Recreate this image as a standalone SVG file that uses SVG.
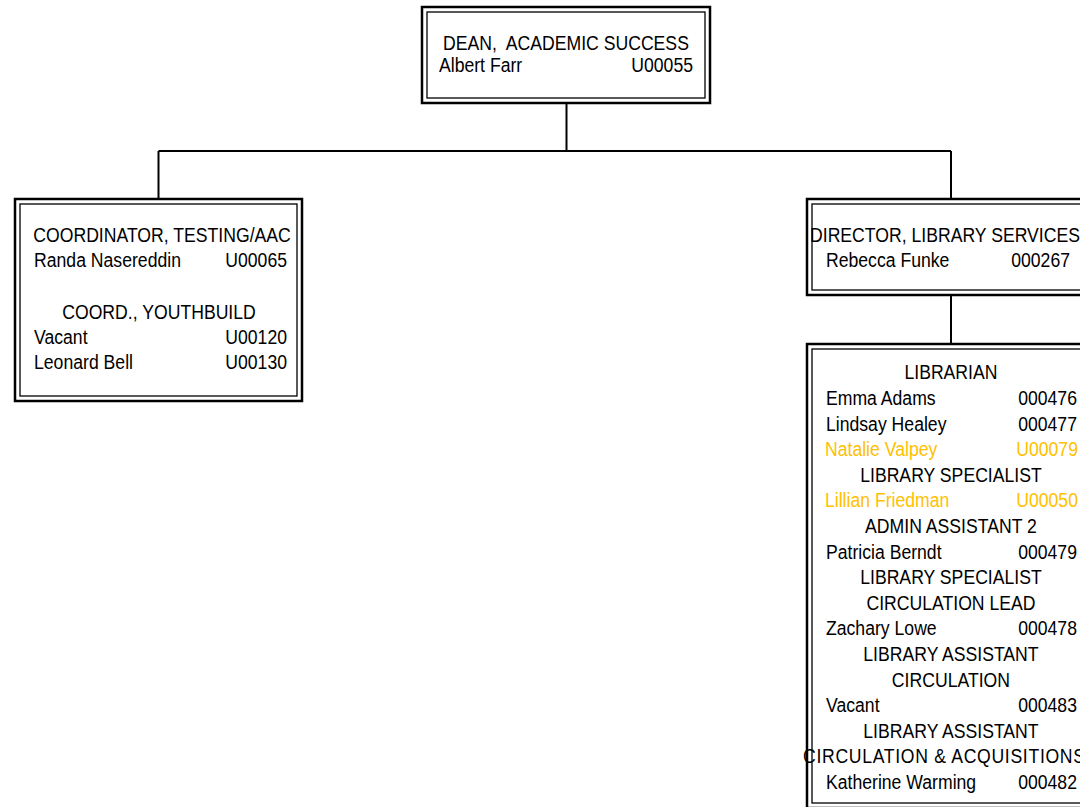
<svg xmlns="http://www.w3.org/2000/svg" width="1080" height="807" viewBox="0 0 1080 807">
<style>
text{font-family:"Liberation Sans",Arial,sans-serif;font-size:21px;fill:#000}
.c{text-anchor:middle}
.r{text-anchor:end}
.y{fill:#FFC000}
.o{fill:#fff;stroke:#000;stroke-width:2.5}
.i{fill:none;stroke:#000;stroke-width:1.3}
.ln{fill:none;stroke:#000;stroke-width:2}
</style>
<rect width="1080" height="807" fill="#fff"/>
<g id="connectors">
<path class="ln" d="M566.5 103V151M158.5 151H951M158.5 151V199M951 151V199M951 295V344"/>
</g>
<g id="dean">
<rect class="o" x="422" y="7" width="288" height="96"/>
<rect class="i" x="427" y="12" width="278" height="86"/>
<g transform="scale(0.84,1)">
<text class="c" x="673.8" y="50" xml:space="preserve">DEAN,  ACADEMIC SUCCESS</text>
<text x="522.6" y="72">Albert Farr</text>
<text class="r" x="825" y="72">U00055</text>
</g>
</g>
<g id="coordinator">
<rect class="o" x="15" y="199" width="287" height="202"/>
<rect class="i" x="20" y="204" width="277" height="192"/>
<g transform="scale(0.84,1)">
<text class="c" x="192.9" y="242">COORDINATOR, TESTING/AAC</text>
<text x="40.5" y="267">Randa Nasereddin</text>
<text class="r" x="341.7" y="267">U00065</text>
<text class="c" x="189.3" y="319">COORD., YOUTHBUILD</text>
<text x="40.5" y="344">Vacant</text>
<text class="r" x="341.7" y="344">U00120</text>
<text x="40.5" y="369">Leonard Bell</text>
<text class="r" x="341.7" y="369">U00130</text>
</g>
</g>
<g id="director">
<rect class="o" x="807" y="199" width="288" height="96"/>
<rect class="i" x="812" y="204" width="278" height="86"/>
<g transform="scale(0.84,1)">
<text x="964.3" y="242">DIRECTOR, LIBRARY SERVICES</text>
<text x="983.3" y="267">Rebecca Funke</text>
<text class="r" x="1273.8" y="267">000267</text>
</g>
</g>
<g id="library-staff">
<rect class="o" x="807" y="344" width="288" height="464"/>
<rect class="i" x="812" y="349" width="278" height="454"/>
<g transform="scale(0.84,1)">
<text class="c" x="1132.1" y="379.5">LIBRARIAN</text>
<text x="983.3" y="405.1">Emma Adams</text>
<text class="r" x="1282.1" y="405.1">000476</text>
<text x="983.3" y="430.7">Lindsay Healey</text>
<text class="r" x="1282.1" y="430.7">000477</text>
<text class="y" x="982.1" y="456.3">Natalie Valpey</text>
<text class="r y" x="1283.3" y="456.3">U00079</text>
<text class="c" x="1132.1" y="481.9">LIBRARY SPECIALIST</text>
<text class="y" x="982.1" y="507.5">Lillian Friedman</text>
<text class="r y" x="1283.3" y="507.5">U00050</text>
<text class="c" x="1132.1" y="533.1">ADMIN ASSISTANT 2</text>
<text x="983.3" y="558.7">Patricia Berndt</text>
<text class="r" x="1282.1" y="558.7">000479</text>
<text class="c" x="1132.1" y="584.3">LIBRARY SPECIALIST</text>
<text class="c" x="1132.1" y="609.9">CIRCULATION LEAD</text>
<text x="983.3" y="635.5">Zachary Lowe</text>
<text class="r" x="1282.1" y="635.5">000478</text>
<text class="c" x="1132.1" y="661.1">LIBRARY ASSISTANT</text>
<text class="c" x="1132.1" y="686.7">CIRCULATION</text>
<text x="983.3" y="712.3">Vacant</text>
<text class="r" x="1282.1" y="712.3">000483</text>
<text class="c" x="1132.1" y="737.9">LIBRARY ASSISTANT</text>
<text x="956" y="763.5" textLength="335.7" lengthAdjust="spacing">CIRCULATION &amp; ACQUISITIONS</text>
<text x="983.3" y="789.1">Katherine Warming</text>
<text class="r" x="1282.1" y="789.1">000482</text>
</g>
</g>
</svg>
